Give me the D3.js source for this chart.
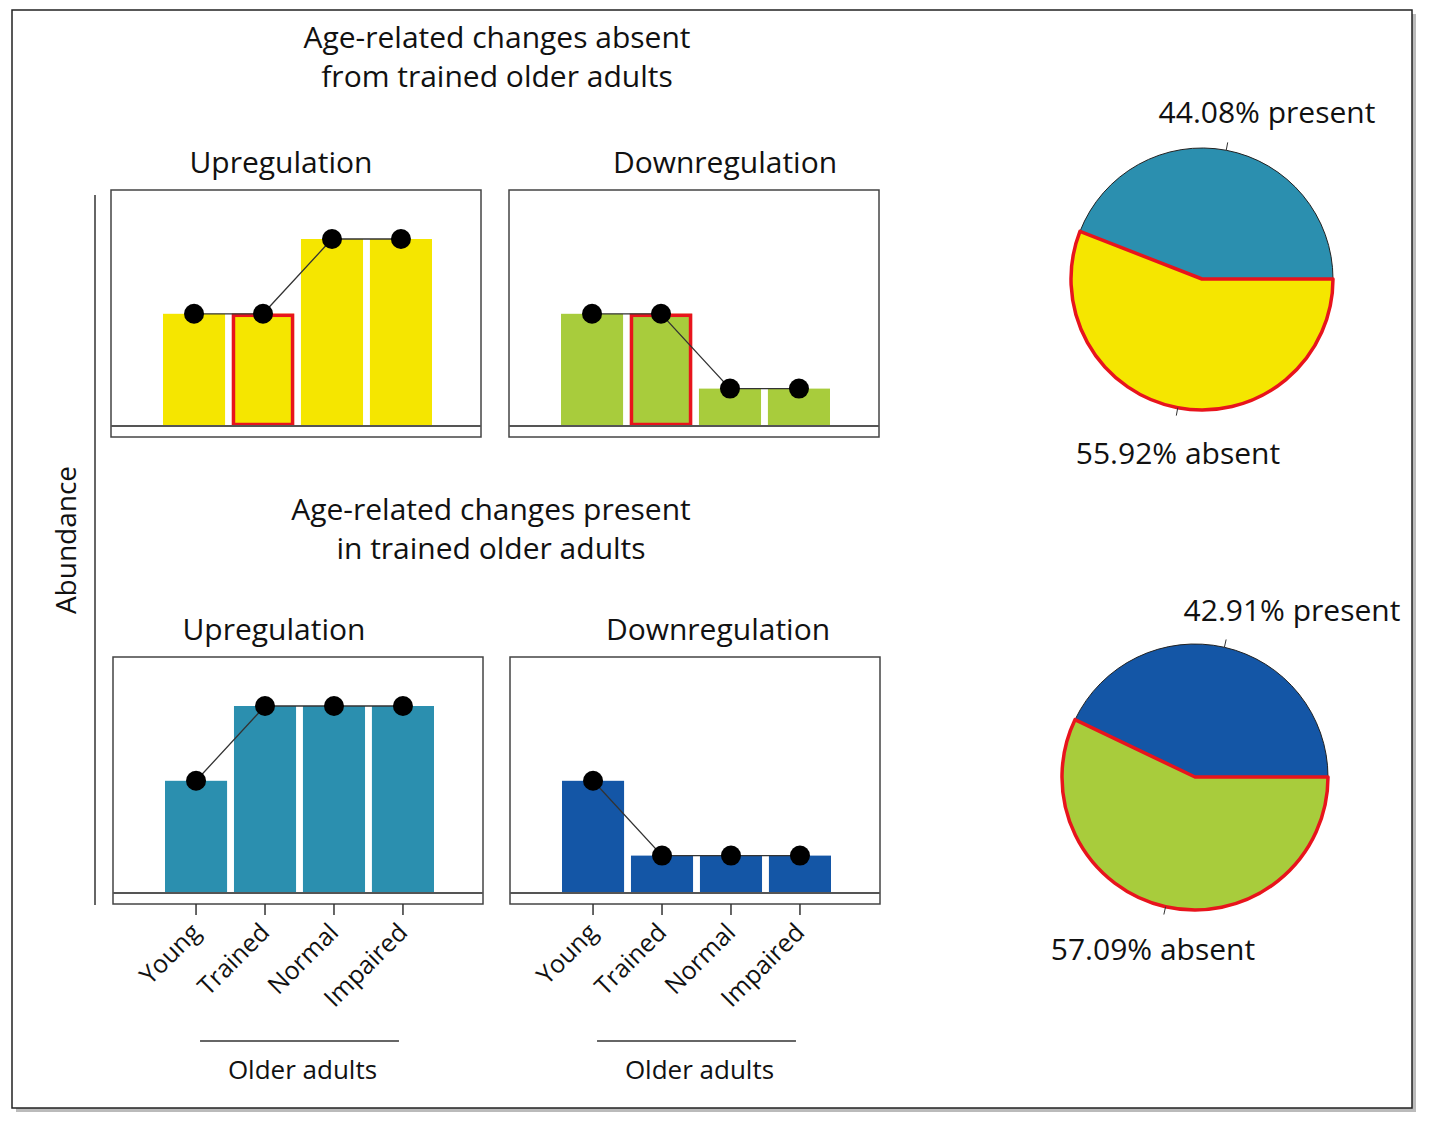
<!DOCTYPE html>
<html><head><meta charset="utf-8">
<script src="https://cdn.jsdelivr.net/npm/d3@7"></script>
<style>body{margin:0;background:#fff}text{font-family:"Open Sans",Lato,sans-serif;fill:#111}</style>
</head><body><svg id="c" width="1429" height="1125"></svg>
<script>
const groups = ["Young","Trained","Normal","Impaired"];
const absentUp = [1.5,1.5,2.5,2.5];
const absentDown = [1.5,1.5,0.5,0.5];
const presentUp = [1.5,2.5,2.5,2.5];
const presentDown = [1.5,0.5,0.5,0.5];
const pieAbsentRow = [{label:"present",value:44.08},{label:"absent",value:55.92}];
const piePresentRow = [{label:"present",value:42.91},{label:"absent",value:57.09}];

const svg = d3.select("#c");
const RED = "#e8141c";
svg.append("rect").attr("x",16).attr("y",14).attr("width",1400).attr("height",1098).attr("fill","#bbb");
svg.append("rect").attr("x",12).attr("y",10).attr("width",1400).attr("height",1098).attr("fill","#fff").attr("stroke","#222").attr("stroke-width",1.5);

function txt(x,y,s,size,anchor="middle"){return svg.append("text").attr("x",x).attr("y",y).attr("text-anchor",anchor).attr("font-size",size).text(s);}

function panel(x0,y0,vals,color,redIdx,ticks){
  const w=370,h=247,base=y0+236;
  const g=svg.append("g");
  const x=d3.scaleBand().domain(groups).range([x0+52,x0+321]).paddingInner(0.1).paddingOuter(0);
  const y=d3.scaleLinear().domain([0,2.5]).range([base,base-187]);
  g.append("rect").attr("x",x0).attr("y",y0).attr("width",w).attr("height",h).attr("fill","none").attr("stroke","#444").attr("stroke-width",1.5);
  g.selectAll(".b").data(vals).join("rect").attr("x",(d,i)=>x(groups[i])).attr("width",x.bandwidth())
    .attr("y",d=>y(d)).attr("height",d=>base-y(d)).attr("fill",color);
  if(redIdx!=null){const d=vals[redIdx];g.append("rect").attr("x",x(groups[redIdx])+1.5).attr("width",x.bandwidth()-3)
    .attr("y",y(d)+1.5).attr("height",base-y(d)-3).attr("fill","none").attr("stroke",RED).attr("stroke-width",3.5);}
  g.append("line").attr("x1",x0).attr("x2",x0+w).attr("y1",base).attr("y2",base).attr("stroke","#555").attr("stroke-width",2);
  const cx=(d,i)=>x(groups[i])+x.bandwidth()/2;
  g.append("path").attr("d",d3.line().x(cx).y(d=>y(d))(vals)).attr("fill","none").attr("stroke","#333").attr("stroke-width",1.3);
  g.selectAll("circle").data(vals).join("circle").attr("cx",cx).attr("cy",d=>y(d)).attr("r",10).attr("fill","#000");
  if(ticks){
    groups.forEach((s,i)=>{const tx=cx(0,i);
      g.append("line").attr("x1",tx).attr("x2",tx).attr("y1",y0+h).attr("y2",y0+h+11).attr("stroke","#333").attr("stroke-width",1.5);
      g.append("text").attr("transform",`translate(${tx+6},${y0+h+30}) rotate(-45)`).attr("text-anchor","end").attr("font-size",25).text(s);
    });
    const lx1=x(groups[0])+x.bandwidth()/2+4, lx2=x(groups[3])+x.bandwidth()/2-4;
    g.append("line").attr("x1",lx1).attr("x2",lx2).attr("y1",1041).attr("y2",1041).attr("stroke","#333").attr("stroke-width",1.5);
    g.append("text").attr("x",(lx1+lx2)/2+3).attr("y",1079).attr("text-anchor","middle").attr("font-size",26).text("Older adults");
  }
}
panel(111,190,absentUp,"#f5e600",1,false);
panel(509,190,absentDown,"#a8cc3c",1,false);
panel(113,657,presentUp,"#2b8faf",null,true);
panel(510,657,presentDown,"#1456a6",null,true);

txt(497,48,"Age-related changes absent",30);
txt(497,87,"from trained older adults",30);
txt(281,173,"Upregulation",30);
txt(725,173,"Downregulation",30);
txt(491,520,"Age-related changes present",30);
txt(491,559,"in trained older adults",30);
txt(274,640,"Upregulation",30);
txt(718,640,"Downregulation",30);
svg.append("text").attr("transform","translate(76,540) rotate(-90)").attr("text-anchor","middle").attr("font-size",28).text("Abundance");
svg.append("line").attr("x1",95).attr("x2",95).attr("y1",195).attr("y2",905).attr("stroke","#333").attr("stroke-width",1.5);

function pie(cx,cy,r,data,presColor,absColor,labP,labA){
  const g=svg.append("g").attr("transform",`translate(${cx},${cy})`);
  const p=d3.pie().value(d=>d.value).sort(null).startAngle(Math.PI/2+2*Math.PI).endAngle(Math.PI/2);
  // absent drawn clockwise from 3 o'clock
  const abs=data[1].value/100*2*Math.PI;
  const arcs=[{d:data[0],s:Math.PI/2+abs,e:Math.PI/2+2*Math.PI,c:presColor},{d:data[1],s:Math.PI/2,e:Math.PI/2+abs,c:absColor}];
  const arc=d3.arc().innerRadius(0).outerRadius(r);
  g.selectAll("path.s").data(arcs).join("path").attr("d",a=>arc({startAngle:a.s,endAngle:a.e})).attr("fill",a=>a.c).attr("stroke","#222").attr("stroke-width",1);
  g.append("path").attr("d",arc({startAngle:arcs[1].s,endAngle:arcs[1].e})).attr("fill","none").attr("stroke",RED).attr("stroke-width",3.5).attr("stroke-linejoin","round");
  [arcs[0],arcs[1]].forEach((a,i)=>{const m=(a.s+a.e)/2;const sx=Math.sin(m),sy=-Math.cos(m);
    g.append("line").attr("x1",sx*r).attr("y1",sy*r).attr("x2",sx*(r+8)).attr("y2",sy*(r+8)).attr("stroke","#333");});
  txt(labP[0],labP[1],`${data[0].value.toFixed(2)}% ${data[0].label}`,30);
  txt(labA[0],labA[1],`${data[1].value.toFixed(2)}% ${data[1].label}`,30);
}
pie(1202,279,131,pieAbsentRow,"#2b8faf","#f5e600",[1267,123],[1178,464]);
pie(1195,777,133,piePresentRow,"#1456a6","#a8cc3c",[1292,621],[1153,960]);
</script></body></html>
